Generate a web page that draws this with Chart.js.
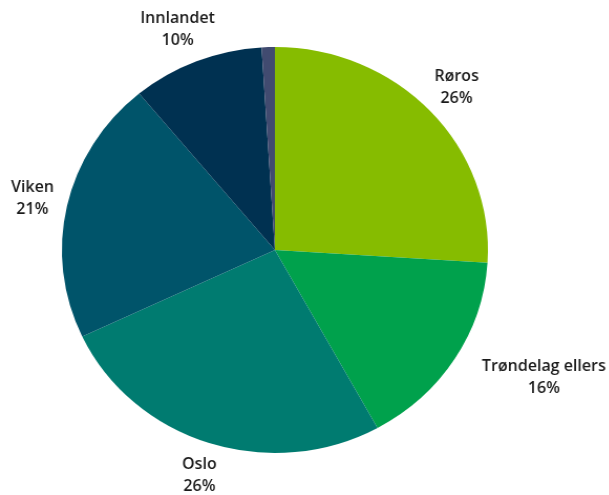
<!DOCTYPE html>
<html lang="no">
<head>
    <meta charset="UTF-8">
    <title>Fordeling</title>
    <script src="https://cdn.jsdelivr.net/npm/chart.js"></script>
    <style>
        body {
            margin: 0;
            background: #fff;
        }
        .chart-box {
            position: relative;
            width: 609px;
            height: 495px;
            overflow: hidden;
        }
        /* the original pie is a bit wider than tall, so stretch the canvas */
        .chart-wrapper {
            position: absolute;
            left: 0;
            top: 0;
            width: 580px;
            height: 495px;
            transform: scaleX(1.0493);
            transform-origin: 0 0;
        }
    </style>
</head>
<body>
    <div class="chart-box">
        <div class="chart-wrapper">
            <canvas id="pieChart"></canvas>
        </div>
    </div>

    <script>
        const categories = ['Røros', 'Trøndelag ellers', 'Oslo', 'Viken', 'Innlandet', 'Annet'];
        const shares = [26, 16, 26, 21, 10, 1];
        const sliceColors = ['#86bc00', '#00a14c', '#007b70', '#00546a', '#003151', '#414b70'];

        const stretch = 1.0493;

        // draws "Name / NN%" outside each slice, along its middle angle
        const outsideLabels = {
            id: 'outsideLabels',
            afterDraw(chart, args, opts) {
                const ctx = chart.ctx;
                const meta = chart.getDatasetMeta(0);
                const lineH = 22;
                ctx.save();
                ctx.scale(1 / stretch, 1);
                ctx.font = '600 16px "Open Sans", Lato, sans-serif';
                ctx.fillStyle = '#1a1a1a';
                ctx.textAlign = 'center';
                ctx.textBaseline = 'middle';
                meta.data.forEach((arc, i) => {
                    if (shares[i] < 2) return;
                    const mid = (arc.startAngle + arc.endAngle) / 2;
                    const sin = Math.cos(mid);
                    const cos = Math.sin(mid);
                    const cx = arc.x * stretch;
                    const cy = arc.y;
                    const rx = arc.outerRadius * stretch + opts.gap;
                    const ry = arc.outerRadius + opts.gap;
                    const name = categories[i];
                    const pct = shares[i] + '%';
                    const halfW = Math.max(ctx.measureText(name).width, ctx.measureText(pct).width) / 2;
                    const nudge = opts.nudge[i] || 0;
                    const x = cx + rx * sin + halfW * sin + nudge;
                    const y = cy + ry * cos + (lineH - 2) * cos;
                    ctx.fillText(name, x, y - lineH / 2);
                    ctx.fillText(pct, x, y + lineH / 2);
                });
                ctx.restore();
            }
        };

        new Chart(document.getElementById('pieChart'), {
            type: 'pie',
            data: {
                labels: categories,
                datasets: [{
                    data: shares,
                    backgroundColor: sliceColors,
                    borderWidth: 0
                }]
            },
            options: {
                responsive: true,
                maintainAspectRatio: false,
                animation: false,
                layout: {
                    padding: { left: 59, right: 115, top: 47, bottom: 42 }
                },
                plugins: {
                    legend: { display: false },
                    tooltip: { enabled: false },
                    outsideLabels: { gap: 14, nudge: { 1: 25 } }
                }
            },
            plugins: [outsideLabels]
        });
    </script>
</body>
</html>
